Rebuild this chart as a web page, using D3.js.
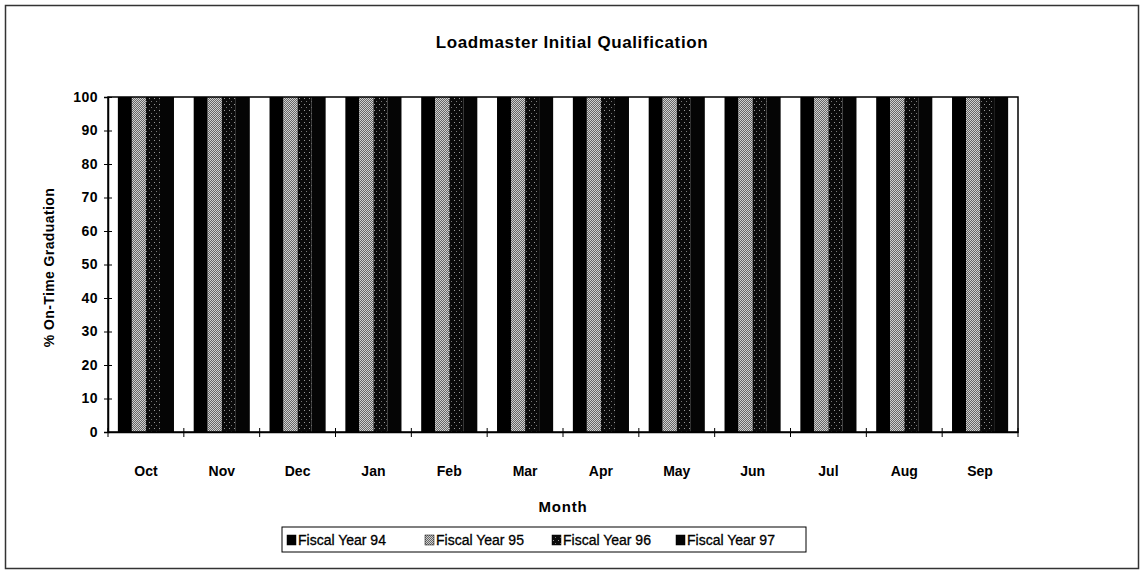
<!DOCTYPE html>
<html>
<head>
<meta charset="utf-8">
<script src="https://cdn.jsdelivr.net/npm/d3@7"></script>
<style>
  body { margin: 0; background: #fff; }
  svg { font-family: "Liberation Sans", Arial, sans-serif; }
</style>
</head>
<body>
<div id="chart"></div>
<script>
// chart data
const months = ['Oct', 'Nov', 'Dec', 'Jan', 'Feb', 'Mar', 'Apr', 'May', 'Jun', 'Jul', 'Aug', 'Sep'];
const seriesNames = ['Fiscal Year 94', 'Fiscal Year 95', 'Fiscal Year 96', 'Fiscal Year 97'];
const fy94 = [100, 100, 100, 100, 100, 100, 100, 100, 100, 100, 100, 100];
const fy95 = [100, 100, 100, 100, 100, 100, 100, 100, 100, 100, 100, 100];
const fy96 = [100, 100, 100, 100, 100, 100, 100, 100, 100, 100, 100, 100];
const fy97 = [100, 100, 100, 100, 100, 100, 100, 100, 100, 100, 100, 100];
const yTicks = [0, 10, 20, 30, 40, 50, 60, 70, 80, 90, 100];

const seriesValues = [fy94, fy95, fy96, fy97];
const colors = ['#000', 'url(#pGray)', 'url(#pDark)', '#050505'];

const width = 1142;
const height = 573;
const margin = { top: 97, right: 124, bottom: 141, left: 108 };
const innerW = width - margin.left - margin.right;
const innerH = height - margin.top - margin.bottom;

const svg = d3.select('#chart')
  .append('svg')
  .attr('width', width)
  .attr('height', height);

// fill patterns to mimic the halftone look of the scan
const defs = svg.append('defs');
const pg = defs.append('pattern')
  .attr('id', 'pGray')
  .attr('width', 2).attr('height', 2)
  .attr('patternUnits', 'userSpaceOnUse');
pg.append('rect').attr('width', 2).attr('height', 2).attr('fill', '#d0d0d0');
pg.append('rect').attr('width', 1).attr('height', 1).attr('fill', '#666');
pg.append('rect').attr('x', 1).attr('y', 1).attr('width', 1).attr('height', 1).attr('fill', '#666');

const pd = defs.append('pattern')
  .attr('id', 'pDark')
  .attr('width', 5).attr('height', 6)
  .attr('patternUnits', 'userSpaceOnUse');
pd.append('rect').attr('width', 5).attr('height', 6).attr('fill', '#0a0a0a');
pd.append('rect').attr('x', 1).attr('y', 1).attr('width', 1).attr('height', 1).attr('fill', '#999');
pd.append('rect').attr('x', 3).attr('y', 4).attr('width', 1).attr('height', 1).attr('fill', '#777');

// outer frame
svg.append('rect')
  .attr('x', 5.5).attr('y', 5.5)
  .attr('width', width - 9).attr('height', height - 10)
  .attr('fill', 'none')
  .attr('stroke', '#333')
  .attr('stroke-width', 1.5);

svg.append('text')
  .attr('x', 572)
  .attr('y', 48)
  .attr('text-anchor', 'middle')
  .attr('font-size', 17)
  .attr('font-weight', 'bold')
  .attr('letter-spacing', 0.6)
  .text('Loadmaster Initial Qualification');

const g = svg.append('g')
  .attr('transform', `translate(${margin.left},${margin.top})`);

const x0 = d3.scaleBand().domain(months).range([0, innerW]).padding(0);
const groupW = x0.bandwidth() * 0.74;
const x1 = d3.scaleBand().domain(d3.range(seriesNames.length)).range([0, groupW]).padding(0);
const y = d3.scaleLinear().domain([0, 100]).range([innerH, 0]);

// bars
seriesValues.forEach((vals, si) => {
  g.selectAll('.bar-' + si)
    .data(vals)
    .enter()
    .append('rect')
    .attr('class', 'bar-' + si)
    .attr('x', (d, i) => x0(months[i]) + (x0.bandwidth() - groupW) / 2 + x1(si))
    .attr('y', d => y(d))
    .attr('width', x1.bandwidth())
    .attr('height', d => innerH - y(d))
    .attr('fill', colors[si]);
});

// plot border
g.append('rect')
  .attr('width', innerW)
  .attr('height', innerH)
  .attr('fill', 'none')
  .attr('stroke', '#000')
  .attr('stroke-width', 1.5);

// y axis
const yAxis = g.append('g')
  .call(d3.axisLeft(y).tickValues(yTicks).tickSize(4).tickPadding(6));
yAxis.select('.domain').attr('stroke-width', 1.5);
yAxis.selectAll('text')
  .attr('font-size', 14)
  .attr('font-weight', 'bold')
  .attr('letter-spacing', 0.5)
  .attr('fill', '#000');
yAxis.selectAll('.tick line').clone().attr('x2', 4);

// x axis, ticks sit between the month groups
const xAxis = g.append('g')
  .attr('transform', `translate(0,${innerH})`)
  .call(d3.axisBottom(x0).tickSize(0).tickPadding(34));
xAxis.select('.domain').attr('stroke-width', 1.5);
xAxis.selectAll('text')
  .attr('font-size', 14)
  .attr('font-weight', 'bold')
  .attr('fill', '#000');
g.selectAll('.xsep')
  .data(d3.range(months.length + 1))
  .enter()
  .append('line')
  .attr('x1', i => i * x0.bandwidth())
  .attr('x2', i => i * x0.bandwidth())
  .attr('y1', innerH - 4)
  .attr('y2', innerH + 5)
  .attr('stroke', '#000');

svg.append('text')
  .attr('x', margin.left + innerW / 2)
  .attr('y', 512)
  .attr('text-anchor', 'middle')
  .attr('font-size', 15)
  .attr('font-weight', 'bold')
  .attr('letter-spacing', 0.8)
  .text('Month');

svg.append('text')
  .attr('transform', `translate(54,${margin.top + innerH / 2 + 3}) rotate(-90)`)
  .attr('text-anchor', 'middle')
  .attr('font-size', 14)
  .attr('font-weight', 'bold')
  .attr('letter-spacing', 0.4)
  .text('% On-Time Graduation');

// legend
const legend = svg.append('g').attr('transform', 'translate(282,527)');
legend.append('rect')
  .attr('width', 524)
  .attr('height', 25)
  .attr('fill', '#fff')
  .attr('stroke', '#000')
  .attr('stroke-width', 1);
const legendX = [5, 143, 270, 394];
seriesNames.forEach((name, i) => {
  const item = legend.append('g').attr('transform', `translate(${legendX[i]},0)`);
  item.append('rect')
    .attr('x', 0).attr('y', 8)
    .attr('width', 9).attr('height', 10)
    .attr('fill', colors[i])
    .attr('stroke', '#000')
    .attr('stroke-width', 0.5);
  item.append('text')
    .attr('x', 11)
    .attr('y', 18)
    .attr('font-size', 14)
    .attr('fill', '#000')
    .attr('stroke', '#000')
    .attr('stroke-width', 0.3)
    .text(name);
});
</script>
</body>
</html>
